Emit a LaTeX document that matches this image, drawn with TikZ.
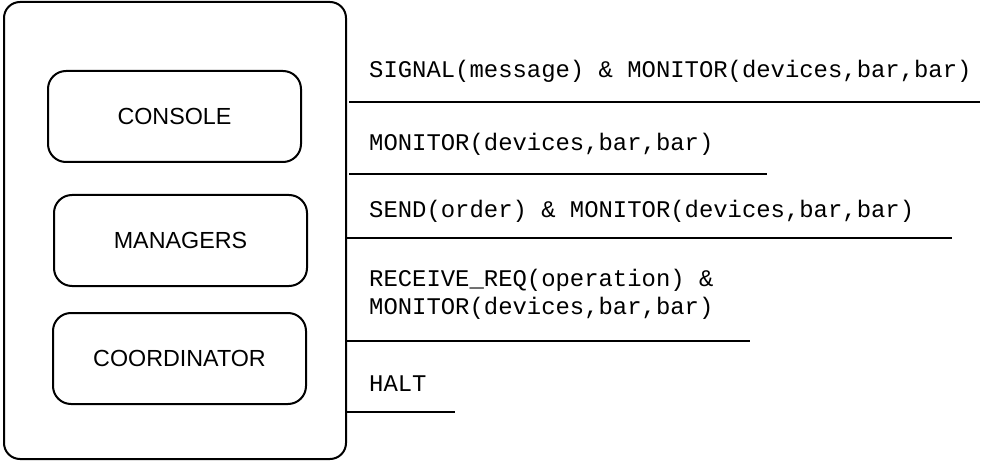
\documentclass[tikz,border=0pt]{standalone}
\usepackage{fontspec}
\setmainfont{Liberation Sans}
\setmonofont{Liberation Mono}
\usetikzlibrary{positioning}

\tikzset{
	part/.style = {draw, line width = 2, rounded corners = 18, minimum width = 253, minimum height = 91, font = \fontsize{23.3}{28}\selectfont},
	call/.style = {anchor = base west, inner sep = 0, align = left, font = \ttfamily\fontsize{23.9}{28}\selectfont}
}

\begin{document}
\begin{tikzpicture}[x = 1pt, y = -1pt]
	\useasboundingbox (0,0) rectangle (981,462);
	\begin{scope}
		\draw [line width = 2, rounded corners = 16] (4,2) rectangle (346,459);
		\node [part] (console) at (174.5,116.5) {CONSOLE};
		\node [part] (managers) at (180.5,240.5) {MANAGERS};
		\node [part] (coordinator) at (179.5,358.5) {COORDINATOR};
	\end{scope}
	\begin{scope}
		\node [call] (signal) at (369,78) {SIGNAL(message) \& MONITOR(devices,bar,bar)};
		\node [call] (monitor) at (369,151) {MONITOR(devices,bar,bar)};
		\node [call] (send) at (369,218) {SEND(order) \& MONITOR(devices,bar,bar)};
		\node [call] (receive) at (369,314) {RECEIVE\_REQ(operation) \&\\MONITOR(devices,bar,bar)};
		\node [call] (halt) at (369,391) {HALT};
	\end{scope}
	\begin{scope}[line width = 2]
		\draw (349,102) -- (980,102);
		\draw (349,174) -- (767,174);
		\draw (347,238) -- (952,238);
		\draw (347,341) -- (750,341);
		\draw (347,412) -- (455,412);
	\end{scope}
\end{tikzpicture}
\end{document}
